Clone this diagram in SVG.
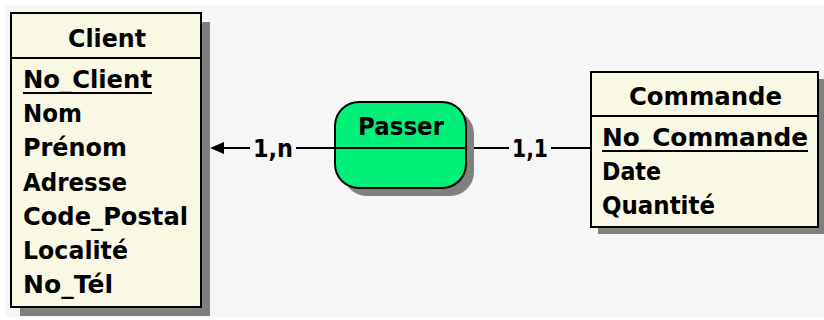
<svg xmlns="http://www.w3.org/2000/svg" width="824" height="320" viewBox="0 0 824 320">
<defs>
<style>
.bg{fill:#f6f6f6}
.shadow{fill:#808080}
.box{fill:#f8f8e4;stroke:#000;stroke-width:2}
.sep{stroke:#000;stroke-width:2}
.rel{fill:#00f07a;stroke:#000;stroke-width:2}
.t{font-family:"DejaVu Sans","Liberation Sans",Arial,sans-serif;font-weight:bold;font-size:24px;fill:#000}
.conn{stroke:#000;stroke-width:2;fill:none}
</style>
</defs>
<rect x="0" y="0" width="824" height="320" fill="#ffffff"/>
<rect class="bg" x="5" y="5" width="819" height="312"/>

<g id="connectors">
<line class="conn" x1="212" y1="148" x2="250" y2="148"/>
<path d="M210,148 L224,142 L224,154 Z" fill="#000"/>
<text class="t" x="253" y="157" textLength="40" lengthAdjust="spacingAndGlyphs">1,n</text>
<line class="conn" x1="296" y1="148" x2="335" y2="148"/>
<line class="conn" x1="466" y1="148" x2="509" y2="148"/>
<text class="t" x="512" y="157" textLength="36" lengthAdjust="spacingAndGlyphs">1,1</text>
<line class="conn" x1="551" y1="148" x2="591" y2="148"/>
</g>

<g id="client">
<rect class="shadow" x="20" y="22" width="190" height="294"/>
<rect class="box" x="11" y="13" width="190" height="294"/>
<line class="sep" x1="11" y1="58" x2="201" y2="58"/>
<text class="t" x="68" y="47" textLength="78" lengthAdjust="spacingAndGlyphs">Client</text>
<text class="t" x="23" y="88" textLength="129" lengthAdjust="spacingAndGlyphs">No_Client</text>
<line x1="23" y1="93" x2="152" y2="93" stroke="#000" stroke-width="2"/>
<text class="t" x="23" y="122" textLength="59" lengthAdjust="spacingAndGlyphs">Nom</text>
<text class="t" x="23" y="156" textLength="104" lengthAdjust="spacingAndGlyphs">Prénom</text>
<text class="t" x="23" y="190.5" textLength="104" lengthAdjust="spacingAndGlyphs">Adresse</text>
<text class="t" x="23" y="225" textLength="165" lengthAdjust="spacingAndGlyphs">Code_Postal</text>
<text class="t" x="23" y="259" textLength="105" lengthAdjust="spacingAndGlyphs">Localité</text>
<text class="t" x="23" y="293" textLength="90" lengthAdjust="spacingAndGlyphs">No_Tél</text>
</g>

<g id="passer">
<rect class="shadow" x="343" y="110" width="131" height="86" rx="24"/>
<rect class="rel" x="335" y="102" width="131" height="86" rx="24"/>
<line class="sep" x1="335" y1="148" x2="466" y2="148"/>
<text class="t" x="358" y="135" textLength="86" lengthAdjust="spacingAndGlyphs">Passer</text>
</g>

<g id="commande">
<rect class="shadow" x="598" y="79" width="227" height="155"/>
<rect class="box" x="591" y="72" width="227" height="155"/>
<line class="sep" x1="591" y1="116" x2="818" y2="116"/>
<text class="t" x="629" y="105" textLength="153" lengthAdjust="spacingAndGlyphs">Commande</text>
<text class="t" x="602" y="146" textLength="206" lengthAdjust="spacingAndGlyphs">No_Commande</text>
<line x1="602" y1="151" x2="808" y2="151" stroke="#000" stroke-width="2"/>
<text class="t" x="602" y="180" textLength="59" lengthAdjust="spacingAndGlyphs">Date</text>
<text class="t" x="602" y="214" textLength="113" lengthAdjust="spacingAndGlyphs">Quantité</text>
</g>
</svg>
